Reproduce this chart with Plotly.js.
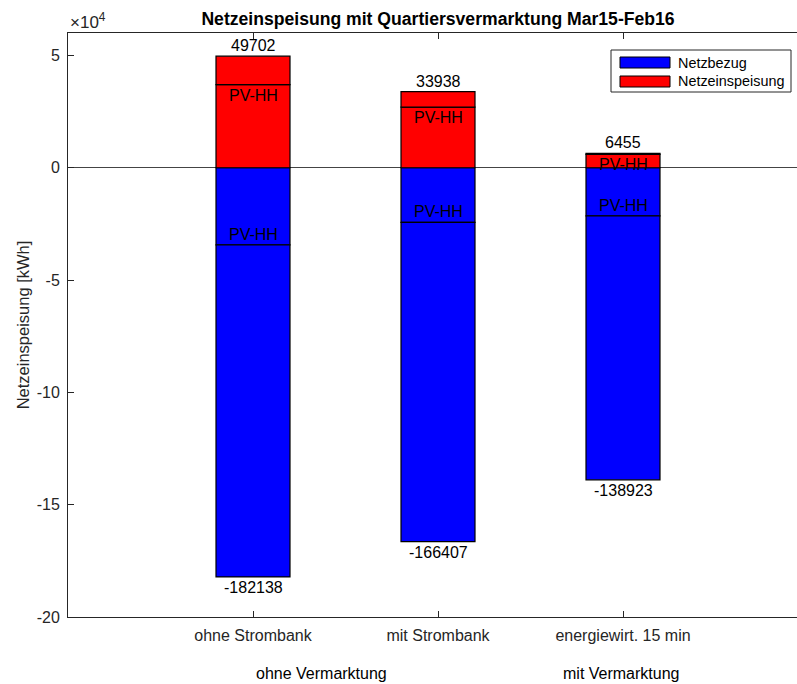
<!DOCTYPE html>
<html>
<head>
<meta charset="utf-8">
<script src="https://cdn.plot.ly/plotly-3.0.1.min.js"></script>
<style>
html,body{margin:0;padding:0;overflow:hidden;background:#fff;}
#chart{width:830px;height:684px;}
</style>
</head>
<body>
<div id="chart"></div>
<script>
// ---- data ----
var categories = ['ohne Strombank', 'mit Strombank', 'energiewirt. 15 min'];
var groupLabels = ['ohne Vermarktung', 'mit Vermarktung'];
var groupPos = [1.37, 2.99];
var einspeisungTotal = [49702, 33938, 6455];      // Netzeinspeisung (positive)
var einspeisungPV = [37000, 27000, 6000];         // PV-HH part of Netzeinspeisung
var bezugTotal = [-182138, -166407, -138923];     // Netzbezug (negative)
var bezugPV = [-34300, -24350, -21400];           // PV-HH part of Netzbezug
var yTickVals = [-200000, -150000, -100000, -50000, 0, 50000];
var yTickText = ['-20', '-15', '-10', '-5', '0', '5'];

var xs = [1, 2, 3];
var einspeisungRest = einspeisungTotal.map(function (v, i) { return v - einspeisungPV[i]; });
var bezugRest = bezugTotal.map(function (v, i) { return v - bezugPV[i]; });

var BLUE = '#0000ff', RED = '#ff0000';
var outline = {color: '#000', width: 1.2};
function barTrace(y, color, name) {
  return {type: 'bar', x: xs, y: y, width: 0.4, name: name, showlegend: false,
          marker: {color: color, line: outline}, hoverinfo: 'y'};
}
var traces = [
  barTrace(bezugPV, BLUE, 'Netzbezug PV-HH'),
  barTrace(bezugRest, BLUE, 'Netzbezug'),
  barTrace(einspeisungPV, RED, 'Netzeinspeisung PV-HH'),
  barTrace(einspeisungRest, RED, 'Netzeinspeisung')
];

// plot-area geometry (pixels) for the hand-drawn legend
var L = 68, T = 33, W = 740, H = 584;
function px(x) { return (x - L) / W; }
function py(y) { return (T + H - y) / H; }

var FONT = 'Liberation Sans, Arial, sans-serif';
var GRAY = '#262626';
var annotations = [];
xs.forEach(function (x, i) {
  annotations.push({x: x, y: einspeisungTotal[i], text: String(einspeisungTotal[i]), showarrow: false,
    yanchor: 'bottom', yshift: 0, font: {size: 16, color: '#000', family: FONT}});
  annotations.push({x: x, y: bezugTotal[i], text: String(bezugTotal[i]), showarrow: false,
    yanchor: 'top', yshift: 0, font: {size: 16, color: '#000', family: FONT}});
  annotations.push({x: x, y: einspeisungPV[i], text: 'PV-HH', showarrow: false,
    yanchor: 'top', yshift: 0, font: {size: 16, color: '#000', family: FONT}});
  annotations.push({x: x, y: bezugPV[i], text: 'PV-HH', showarrow: false,
    yanchor: 'bottom', yshift: 0, font: {size: 16, color: '#000', family: FONT}});
});
groupLabels.forEach(function (g, i) {
  annotations.push({x: groupPos[i], xref: 'x', y: py(673), yref: 'paper', text: g, showarrow: false,
    yanchor: 'middle', font: {size: 16, color: '#000', family: FONT}});
});
annotations.push({x: 0, xref: 'paper', y: 1, yref: 'paper', text: '\u00d710<sup>4</sup>', showarrow: false,
  xanchor: 'left', yanchor: 'bottom', xshift: 0, yshift: -1, font: {size: 17, color: GRAY, family: FONT}});
// legend labels
annotations.push({x: px(676), y: py(62.5), xref: 'paper', yref: 'paper', text: 'Netzbezug', showarrow: false,
  xanchor: 'left', yanchor: 'middle', font: {size: 14.4, color: '#000', family: FONT}});
annotations.push({x: px(676), y: py(81.5), xref: 'paper', yref: 'paper', text: 'Netzeinspeisung', showarrow: false,
  xanchor: 'left', yanchor: 'middle', font: {size: 14.4, color: '#000', family: FONT}});

var shapes = [
  {type: 'rect', xref: 'paper', yref: 'paper', x0: px(611), x1: px(791), y0: py(92), y1: py(50),
   fillcolor: '#fff', line: {color: GRAY, width: 1}},
  {type: 'rect', xref: 'paper', yref: 'paper', x0: px(620), x1: px(670), y0: py(68), y1: py(57),
   fillcolor: BLUE, line: {color: '#000', width: 1}},
  {type: 'rect', xref: 'paper', yref: 'paper', x0: px(620), x1: px(670), y0: py(87), y1: py(76),
   fillcolor: RED, line: {color: '#000', width: 1}}
];

var layout = {
  width: 830, height: 684,
  margin: {l: L, r: 830 - L - W, t: T, b: 684 - T - H, pad: 0},
  paper_bgcolor: '#fff', plot_bgcolor: '#fff',
  barmode: 'relative',
  showlegend: false,
  font: {family: FONT, size: 16, color: GRAY},
  title: {text: '<b>Netzeinspeisung mit Quartiersvermarktung Mar15-Feb16</b>',
          x: 0.5, xref: 'paper', y: 1, yref: 'paper', yanchor: 'bottom', pad: {b: 8},
          font: {size: 17.6, color: '#000', family: FONT}},
  xaxis: {range: [0, 4], tickvals: xs, ticktext: categories, ticks: 'inside', ticklen: 6,
          tickcolor: GRAY, showline: true, linecolor: GRAY, linewidth: 1, mirror: 'ticks',
          showgrid: false, zeroline: false, tickfont: {size: 16, color: GRAY}, ticklabelstandoff: 4},
  yaxis: {range: [-200000, 60000], tickvals: yTickVals, ticktext: yTickText, ticks: 'inside', ticklen: 6,
          tickcolor: GRAY, showline: true, linecolor: GRAY, linewidth: 1, mirror: 'ticks',
          showgrid: false, zeroline: true, zerolinecolor: '#444', zerolinewidth: 1,
          tickfont: {size: 16, color: GRAY}, ticklabelstandoff: 4,
          title: {text: 'Netzeinspeisung [kWh]', standoff: 2, font: {size: 16.5, color: GRAY}}},
  annotations: annotations,
  shapes: shapes
};

Plotly.newPlot('chart', traces, layout, {displayModeBar: false, staticPlot: true});
</script>
</body>
</html>
